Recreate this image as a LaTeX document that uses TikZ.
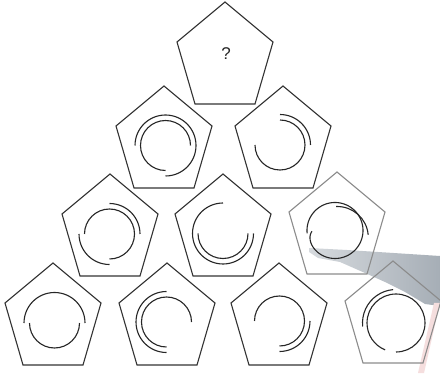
\documentclass[tikz,border=0pt]{standalone}
\usepackage{fontspec}
\setmainfont{Liberation Sans}
\definecolor{bandlight}{RGB}{214,218,222}
\definecolor{banddark}{RGB}{166,174,182}
\definecolor{pinkish}{RGB}{245,222,222}
\newcommand\pentat[3]{\draw[#1] (#2,#3) -- ++(48,-40) -- ++(-18,-62) -- ++(-60,0) -- ++(-18,62) -- cycle;}
\newcommand\ringarc[5]{\draw[ring] ([shift={(#3:#5)}]#1,#2) arc[start angle=#3, end angle=#4, radius=#5];}
\begin{document}
\begin{tikzpicture}[x=1pt,y=1pt,
  pentline/.style={draw=black!80, line width=1.1pt, line join=miter},
  greypent/.style={draw=black!45, line width=1.1pt, line join=miter},
  ring/.style={draw=black!85, line width=1.1pt}]
\useasboundingbox (0,0) rectangle (440,373);
\fill[white] (0,0) rectangle (440,373);
% scan shadow band
\shade[left color=bandlight, right color=banddark]
  (309,125) -- (347,123) -- (440,117) -- (440,67) -- (425,69) -- (405,81) -- (385,91) -- (365,100) -- (340,111) -- (318,115) -- (309,121) -- cycle;
\fill[pinkish] (434,70) -- (440,70) -- (424,0) -- (418,0) -- cycle;
% pentagons (apex positions)
\pentat{pentline}{225}{371}
\pentat{pentline}{164}{287}
\pentat{pentline}{283}{287}
\pentat{pentline}{110}{199}
\pentat{pentline}{223}{199}
\pentat{greypent}{337}{201}
\pentat{pentline}{53}{110}
\pentat{pentline}{167}{110}
\pentat{pentline}{279}{110}
\pentat{greypent}{393}{112}
\node[font=\fontsize{17}{17}\selectfont, text=black!85] (q) at (226,319) {?};
% rings: inner r=25, outer r=30.5
% A
\ringarc{54.5}{50}{0}{180}{30.5}
\ringarc{54.5}{50}{180}{360}{25}
% B
\ringarc{166.5}{51}{90}{270}{30.5}
\ringarc{166.5}{51}{0}{270}{25}
% C
\ringarc{279.5}{52}{-90}{0}{30.5}
\ringarc{279.5}{52}{-90}{180}{25}
% D
\ringarc{396}{50}{-90}{248}{29}
\ringarc{396}{50}{95}{186}{33.5}
% E
\ringarc{109.5}{139}{0}{90}{30.5}
\ringarc{109.5}{139}{180}{270}{30.5}
\ringarc{109.5}{139}{-90}{180}{25}
% F
\ringarc{223}{139.5}{90}{360}{30.5}
\ringarc{223}{139.5}{180}{360}{25}
% G
\draw[ring] plot[domain=-178:186, samples=140, smooth]
  ({335+(28-5*exp(-(\x+178)/15))*cos(\x)}, {142.5+(28-5*exp(-(\x+178)/15))*sin(\x)});
\ringarc{337.3}{135.5}{92}{5}{31}
% H
\ringarc{165.5}{227.5}{-90}{180}{30.5}
\ringarc{165.5}{227.5}{0}{270}{25}
% I
\ringarc{280}{228}{0}{90}{30.5}
\ringarc{280}{228}{-180}{90}{25}
\end{tikzpicture}
\end{document}
